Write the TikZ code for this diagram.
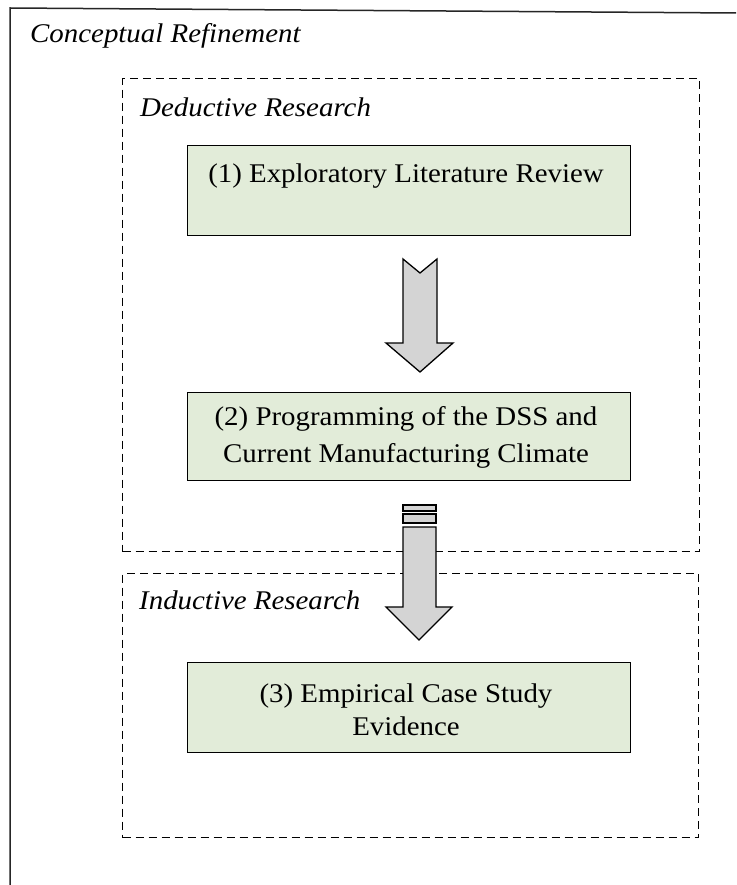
\documentclass[tikz,border=0pt]{standalone}
\usepackage{fontspec}
\setmainfont{Liberation Serif}[FakeStretch=1.07]
\definecolor{stagegreen}{RGB}{226,236,217}
\definecolor{arrowgrey}{RGB}{212,212,212}
\begin{document}
\begin{tikzpicture}[x=1pt,y=-1pt,
  frameline/.style={line width=1.5pt, black!85},
  groupbox/.style={draw, dash pattern=on 8pt off 5pt, line width=1.3pt, anchor=north west, inner sep=0pt},
  grouplabel/.style={anchor=base west, inner sep=0pt, font=\fontsize{27}{32}\selectfont\itshape},
  stagebox/.style={draw, line width=1.3pt, fill=stagegreen, anchor=north west, inner sep=0pt, minimum width=443pt},
  stagetext/.style={anchor=base, inner sep=0pt, align=center},
  blockarrow/.style={draw, line width=1.3pt, fill=arrowgrey, line join=miter},
]
\useasboundingbox (0,0) rectangle (736,885);
\fill[white] (0,0) rectangle (736,885);

% outer frame: only its top and left sides fall inside the page
\draw[frameline] (736,13) -- (10,8) -- (10,885);
\node[grouplabel] (conceptual) at (30,43) {Conceptual Refinement};

% research phases
\node[groupbox, minimum width=577pt, minimum height=473pt] (deductive) at (122,78) {};
\node[grouplabel] (deductivelabel) at (140,117) {Deductive Research};
\node[groupbox, minimum width=576pt, minimum height=264pt] (inductive) at (122,573) {};
\node[grouplabel] (inductivelabel) at (139,609) {Inductive Research};

% stages (the base anchor of a multi-line node sits on its last line)
\node[stagebox, minimum height=90pt] (stage1) at (187,145) {};
\node[stagebox, minimum height=88pt] (stage2) at (187,392) {};
\node[stagebox, minimum height=90pt] (stage3) at (187,662) {};

\node[stagetext, font=\fontsize{27}{37}\selectfont] (text1) at (406,183)
  {(1) Exploratory Literature Review};
\node[stagetext, font=\fontsize{27}{37}\selectfont] (text2) at (406,462)
  {(2) Programming of the DSS and\\Current Manufacturing Climate};
\node[stagetext, font=\fontsize{27}{33}\selectfont] (text3) at (406,735)
  {(3) Empirical Case Study\\Evidence};

% block arrow with notched tail between stage 1 and stage 2
\draw[blockarrow] (403,259) -- (420,273) -- (437,259) -- (437,343) -- (453,343)
  -- (420,372) -- (386,343) -- (403,343) -- cycle;

% striped block arrow between stage 2 and stage 3
\draw[blockarrow] (403,505) rectangle (436,511);
\draw[blockarrow] (403,514) rectangle (436,523);
\draw[blockarrow] (403,527) -- (436,527) -- (436,607) -- (452,607)
  -- (419,640) -- (386,607) -- (403,607) -- cycle;
\end{tikzpicture}
\end{document}
